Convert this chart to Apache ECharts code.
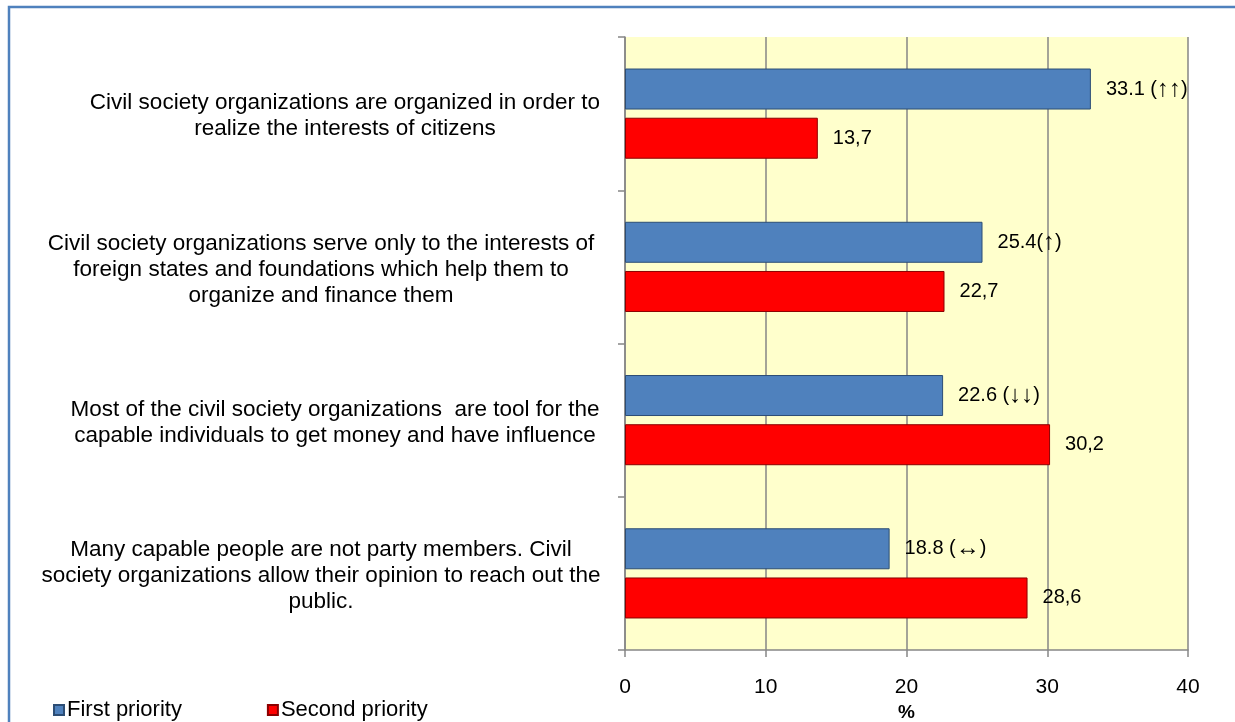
<!DOCTYPE html>
<html>
<head>
<meta charset="utf-8">
<title>Civil society organizations</title>
<script src="https://cdn.jsdelivr.net/npm/echarts@6/dist/echarts.min.js"></script>
<style>
  html, body { margin: 0; padding: 0; background: #ffffff; }
  #chart { width: 1235px; height: 722px; }
</style>
</head>
<body>
<div id="chart"></div>
<script>
// Statements, listed top to bottom
const categories = [
  'Civil society organizations are organized in order to\nrealize the interests of citizens',
  'Civil society organizations serve only to the interests of\nforeign states and foundations which help them to\norganize and finance them',
  'Most of the civil society organizations  are tool for the\ncapable individuals to get money and have influence',
  'Many capable people are not party members. Civil\nsociety organizations allow their opinion to reach out the\npublic.'
];
const seriesNames = ['First priority', 'Second priority'];
const firstPriority = [33.1, 25.4, 22.6, 18.8];
const secondPriority = [13.7, 22.7, 30.2, 28.6];
// Trend markers shown after the first-priority values
const firstTrend = [' (↑↑)', '(↑)', ' (↓↓)', ' (↔)'];
const xTicks = [0, 10, 20, 30, 40];

const FONT = '"Liberation Sans", Arial, sans-serif';
const GRAY = '#868686';
const CAT_FONT = 22.5;
const CAT_LINE = 26;
// horizontal nudge (px) of each statement block to the right
const catShift = [24, 0, 14, 0];

const catRich = {};
catShift.forEach((s, i) => {
  catRich['c' + i] = {
    fontFamily: FONT, fontSize: CAT_FONT, lineHeight: CAT_LINE, color: '#000',
    padding: [0, 0, 0, 2 * s]
  };
});

// Arrows are set slightly larger than the digits
const arrowStyle = { fontFamily: FONT, fontSize: 24, color: '#000' };

const chart = echarts.init(document.getElementById('chart'), null, { renderer: 'canvas' });

chart.setOption({
  backgroundColor: '#ffffff',
  animation: false,
  textStyle: { fontFamily: FONT, color: '#000' },
  graphic: [{
    type: 'rect',
    silent: true,
    shape: { x: 9, y: 7, width: 1300, height: 800 },
    style: { fill: 'none', stroke: '#4F81BD', lineWidth: 2.5 }
  }],
  legend: {
    data: seriesNames,
    left: 48,
    top: 694,
    itemWidth: 10,
    itemHeight: 10,
    itemGap: 85,
    icon: 'rect',
    textStyle: { fontFamily: FONT, fontSize: 22, color: '#000', padding: [0, 0, 0, -2] }
  },
  grid: {
    left: 625,
    right: 47,
    top: 37,
    bottom: 72,
    containLabel: false,
    outerBoundsMode: 'none',
    show: true,
    backgroundColor: '#FFFFCC',
    borderWidth: 0
  },
  xAxis: {
    type: 'value',
    min: xTicks[0],
    max: xTicks[xTicks.length - 1],
    interval: 10,
    name: '%',
    nameLocation: 'middle',
    nameGap: 52,
    nameTextStyle: { fontFamily: FONT, fontSize: 19, fontWeight: 'bold', color: '#000' },
    axisLine: { show: true, lineStyle: { color: GRAY, width: 1.5 } },
    axisTick: { show: true, length: 7, lineStyle: { color: GRAY, width: 1.5 } },
    axisLabel: { fontFamily: FONT, fontSize: 21, color: '#000', margin: 27 },
    splitLine: { show: true, lineStyle: { color: GRAY, width: 1.5 } }
  },
  yAxis: {
    type: 'category',
    data: categories,
    inverse: true,
    axisLine: { show: true, lineStyle: { color: GRAY, width: 1.5 } },
    axisTick: { show: true, length: 7, lineStyle: { color: GRAY, width: 1.5 } },
    axisLabel: {
      interval: 0,
      fontFamily: FONT,
      fontSize: CAT_FONT,
      lineHeight: CAT_LINE,
      color: '#000',
      align: 'center',
      margin: 304,
      padding: [5, 0, 0, 0],
      formatter: (val, idx) => val.split('\n').map(l => '{c' + idx + '|' + l + '}').join('\n'),
      rich: catRich
    },
    splitLine: { show: false }
  },
  series: [
    {
      name: seriesNames[0],
      type: 'bar',
      data: firstPriority,
      barWidth: 41,
      barGap: '20%',
      itemStyle: { color: '#4F81BD', borderColor: '#2C4D75', borderWidth: 1 },
      label: {
        show: true,
        position: 'right',
        distance: 15,
        fontFamily: FONT,
        fontSize: 20,
        color: '#000',
        formatter: p => {
          const t = firstTrend[p.dataIndex];
          const open = t.indexOf('(');
          const arrows = t.slice(open + 1, t.length - 1);
          return '{v|' + p.value.toFixed(1) + t.slice(0, open + 1) + '}{a|' + arrows + '}{v|)}';
        },
        rich: {
          v: { fontFamily: FONT, fontSize: 20, color: '#000' },
          a: arrowStyle
        }
      }
    },
    {
      name: seriesNames[1],
      type: 'bar',
      data: secondPriority,
      barWidth: 41,
      barGap: '20%',
      itemStyle: { color: '#FF0000', borderColor: '#8B0000', borderWidth: 1 },
      label: {
        show: true,
        position: 'right',
        distance: 15,
        fontFamily: FONT,
        fontSize: 20,
        color: '#000',
        formatter: p => p.value.toFixed(1).replace('.', ',')
      }
    }
  ]
});
</script>
</body>
</html>
